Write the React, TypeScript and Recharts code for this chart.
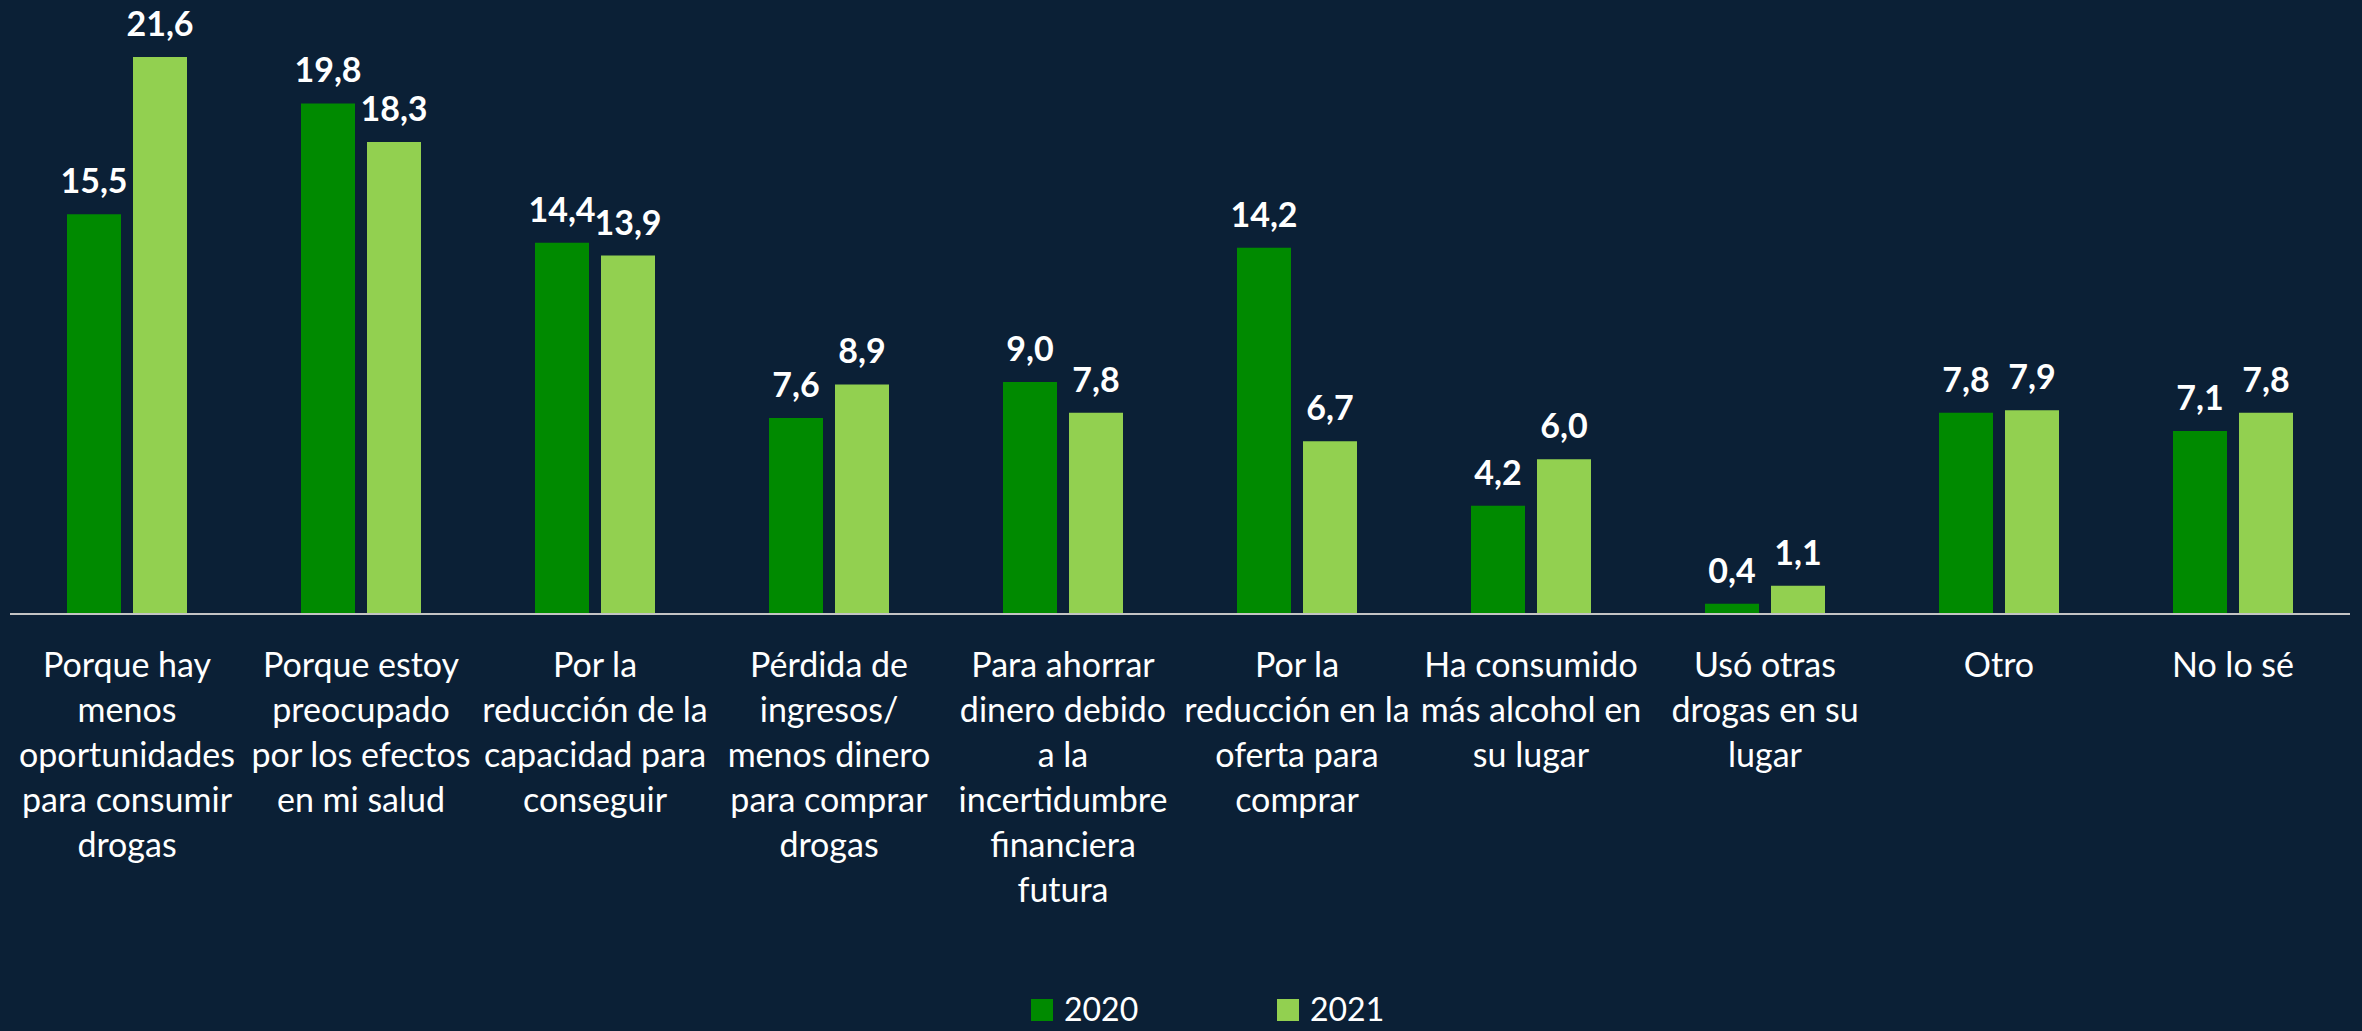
import { Bar, BarChart, LabelList, XAxis, YAxis } from "recharts";

const categoryLines: string[][] = [
  ["Porque hay", "menos", "oportunidades", "para consumir", "drogas"],
  ["Porque estoy", "preocupado", "por los efectos", "en mi salud"],
  ["Por la", "reducción de la", "capacidad para", "conseguir"],
  ["Pérdida de", "ingresos/", "menos dinero", "para comprar", "drogas"],
  ["Para ahorrar", "dinero debido", "a la", "incertidumbre", "financiera", "futura"],
  ["Por la", "reducción en la", "oferta para", "comprar"],
  ["Ha consumido", "más alcohol en", "su lugar"],
  ["Usó otras", "drogas en su", "lugar"],
  ["Otro"],
  ["No lo sé"],
];
const categories = categoryLines.map((l) => l.join(" "));
const values2020 = [15.5, 19.8, 14.4, 7.6, 9.0, 14.2, 4.2, 0.4, 7.8, 7.1];
const values2021 = [21.6, 18.3, 13.9, 8.9, 7.8, 6.7, 6.0, 1.1, 7.9, 7.8];
const seriesNames = ["2020", "2021"];

const data = categories.map((c, i) => ({ category: c, y2020: values2020[i], y2021: values2021[i] }));

const BG = "#0b2036";
const DARK = "#008a00";
const LIGHT = "#92d050";
const FONT = "Lato, 'Open Sans', sans-serif";

document.body.style.margin = "0";
document.body.style.background = BG;

const fmt = (v: number) => v.toFixed(1).replace(".", ",");

function CategoryTick(props: any) {
  const { x, y, index } = props;
  const lines = categoryLines[index] || [];
  return (
    <text x={x} y={y + 61} textAnchor="middle" fill="#ffffff" fontSize={34} fontFamily={FONT}>
      {lines.map((l, i) => (
        <tspan key={i} x={x} dy={i === 0 ? 0 : 45}>
          {l}
        </tspan>
      ))}
    </text>
  );
}

function ValueLabel(props: any) {
  const { x, y, width, value } = props;
  return (
    <text x={x + width / 2} y={y - 21} textAnchor="middle" fill="#ffffff" fontSize={34} fontWeight={700} fontFamily={FONT}>
      {fmt(Number(value))}
    </text>
  );
}

export default function App() {
  return (
    <div style={{ position: "relative", width: 2362, height: 1031, background: BG, overflow: "hidden" }}>
      <BarChart width={2362} height={1031} data={data} margin={{ top: 8, right: 12, bottom: 17, left: 10 }} barSize={54} barGap={12}>
        <XAxis
          dataKey="category"
          interval={0}
          height={400}
          tickLine={false}
          tickSize={0}
          axisLine={{ stroke: "#c4c4c4", strokeWidth: 2 }}
          tick={<CategoryTick />}
        />
        <YAxis hide domain={[0, 23.5]} />
        <Bar dataKey="y2020" fill={DARK} isAnimationActive={false}>
          <LabelList dataKey="y2020" content={<ValueLabel />} />
        </Bar>
        <Bar dataKey="y2021" fill={LIGHT} isAnimationActive={false}>
          <LabelList dataKey="y2021" content={<ValueLabel />} />
        </Bar>
      </BarChart>
      <div style={{ position: "absolute", left: 1031, top: 993, display: "flex", fontFamily: FONT, fontSize: 32, color: "#fff", lineHeight: "32px" }}>
        {seriesNames.map((name, i) => (
          <div key={name} style={{ display: "flex", alignItems: "flex-start", width: 246 }}>
            <span style={{ width: 22, height: 22, marginTop: 6, background: i === 0 ? DARK : LIGHT }} />
            <span style={{ marginLeft: 11 }}>{name}</span>
          </div>
        ))}
      </div>
    </div>
  );
}
